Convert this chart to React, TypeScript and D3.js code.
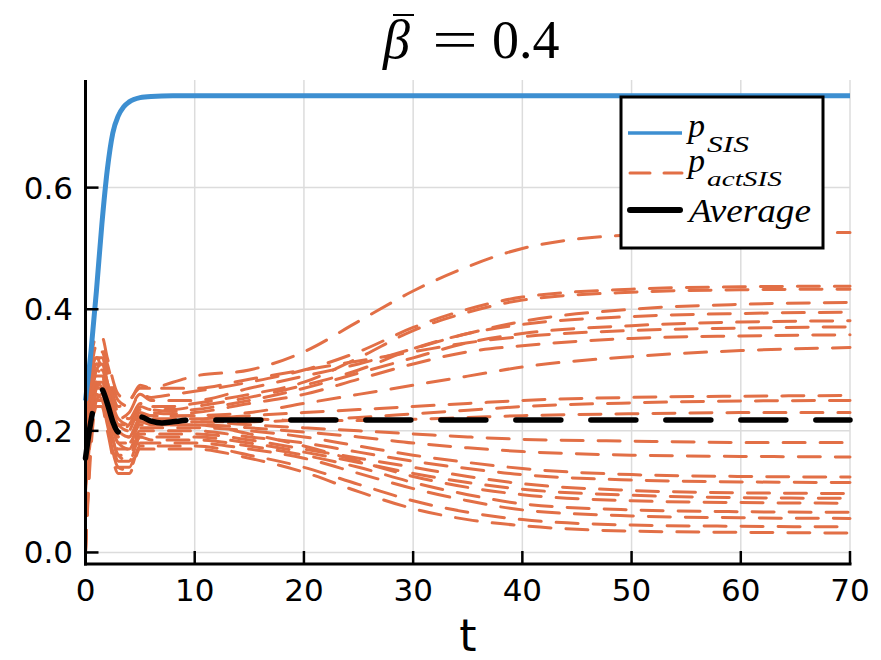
import React from "react";
import * as d3 from "d3";

// ---- data ----
const xTicks = [0, 10, 20, 30, 40, 50, 60, 70];
const yTicks = [0.0, 0.2, 0.4, 0.6];
const yTickLabels = ["0.0", "0.2", "0.4", "0.6"];

const tBlue = [0, 0.5, 1, 1.5, 2, 2.5, 3, 3.5, 4, 5, 6, 8, 70];
const pSIS = [0.25, 0.33, 0.43, 0.54, 0.63, 0.69, 0.718, 0.733, 0.741, 0.748, 0.75, 0.751, 0.751];

const tAvg = [0, 0.35, 0.7, 1.0, 1.4, 2.0, 2.5, 3.0, 3.5, 4.0, 5.0, 6.0, 7.0, 8.0, 10, 70];
const average = [0.155, 0.2, 0.235, 0.258, 0.27, 0.245, 0.215, 0.198, 0.2, 0.212, 0.223, 0.216, 0.213, 0.215, 0.218, 0.218];

const tAct = [0, 0.5, 1, 1.5, 2, 3, 4, 5, 6, 8, 10, 15, 20, 25, 30, 35, 40, 50, 60, 70];
const act01 = [0.22, 0.29, 0.33, 0.33, 0.3, 0.24, 0.25, 0.27, 0.27, 0.28, 0.29, 0.3, 0.33, 0.38, 0.43, 0.47, 0.5, 0.522, 0.526, 0.526];
const act02 = [0.18, 0.27, 0.31, 0.31, 0.28, 0.22, 0.23, 0.26, 0.255, 0.26, 0.265, 0.28, 0.3, 0.33, 0.37, 0.4, 0.42, 0.433, 0.437, 0.438];
const act03 = [0, 0.2, 0.29, 0.3, 0.27, 0.2, 0.21, 0.24, 0.24, 0.24, 0.245, 0.26, 0.28, 0.32, 0.365, 0.395, 0.415, 0.428, 0.432, 0.433];
const act04 = [0.24, 0.3, 0.34, 0.34, 0.31, 0.25, 0.24, 0.26, 0.25, 0.25, 0.25, 0.27, 0.29, 0.31, 0.335, 0.36, 0.38, 0.4, 0.408, 0.411];
const act05 = [0.15, 0.24, 0.3, 0.31, 0.28, 0.21, 0.21, 0.24, 0.235, 0.235, 0.24, 0.255, 0.275, 0.3, 0.335, 0.36, 0.375, 0.388, 0.393, 0.395];
const act06 = [0.2, 0.28, 0.32, 0.32, 0.29, 0.23, 0.22, 0.245, 0.235, 0.232, 0.235, 0.25, 0.27, 0.295, 0.32, 0.345, 0.36, 0.373, 0.379, 0.381];
const act07 = [0.25, 0.32, 0.355, 0.355, 0.32, 0.26, 0.25, 0.275, 0.27, 0.27, 0.27, 0.285, 0.3, 0.315, 0.33, 0.345, 0.355, 0.365, 0.369, 0.371];
const act08 = [0.12, 0.22, 0.28, 0.29, 0.26, 0.19, 0.2, 0.235, 0.23, 0.228, 0.23, 0.245, 0.26, 0.285, 0.31, 0.33, 0.34, 0.352, 0.356, 0.358];
const act09 = [0.22, 0.28, 0.31, 0.3, 0.27, 0.21, 0.2, 0.225, 0.225, 0.224, 0.225, 0.23, 0.245, 0.26, 0.275, 0.29, 0.305, 0.322, 0.332, 0.337];
const act10 = [0.17, 0.25, 0.29, 0.29, 0.26, 0.2, 0.19, 0.22, 0.22, 0.22, 0.22, 0.225, 0.23, 0.235, 0.24, 0.245, 0.25, 0.255, 0.257, 0.258];
const act11 = [0, 0.19, 0.27, 0.28, 0.25, 0.18, 0.18, 0.215, 0.215, 0.215, 0.215, 0.215, 0.218, 0.222, 0.228, 0.234, 0.24, 0.246, 0.249, 0.25];
const act12 = [0.23, 0.29, 0.32, 0.315, 0.28, 0.22, 0.21, 0.23, 0.225, 0.225, 0.225, 0.22, 0.217, 0.217, 0.219, 0.222, 0.225, 0.228, 0.23, 0.23];
const act13 = [0.16, 0.24, 0.28, 0.28, 0.25, 0.19, 0.19, 0.22, 0.215, 0.215, 0.215, 0.21, 0.205, 0.2, 0.195, 0.19, 0.186, 0.183, 0.181, 0.181];
const act14 = [0.21, 0.27, 0.3, 0.29, 0.26, 0.2, 0.19, 0.215, 0.21, 0.21, 0.21, 0.205, 0.198, 0.19, 0.18, 0.172, 0.166, 0.16, 0.158, 0.157];
const act15 = [0.14, 0.22, 0.27, 0.27, 0.24, 0.17, 0.17, 0.205, 0.205, 0.205, 0.205, 0.2, 0.19, 0.175, 0.16, 0.148, 0.138, 0.128, 0.125, 0.124];
const act16 = [0.19, 0.25, 0.28, 0.27, 0.24, 0.18, 0.17, 0.2, 0.2, 0.2, 0.2, 0.19, 0.18, 0.165, 0.15, 0.138, 0.128, 0.119, 0.116, 0.115];
const act17 = [0.1, 0.2, 0.26, 0.26, 0.23, 0.16, 0.16, 0.195, 0.195, 0.195, 0.195, 0.185, 0.17, 0.155, 0.14, 0.125, 0.113, 0.102, 0.098, 0.097];
const act18 = [0.2, 0.26, 0.28, 0.27, 0.23, 0.16, 0.15, 0.19, 0.19, 0.19, 0.19, 0.18, 0.165, 0.148, 0.13, 0.115, 0.104, 0.094, 0.09, 0.089];
const act19 = [0.24, 0.3, 0.32, 0.3, 0.26, 0.19, 0.18, 0.21, 0.21, 0.21, 0.21, 0.195, 0.175, 0.15, 0.125, 0.107, 0.095, 0.085, 0.082, 0.081];
const act20 = [0, 0.17, 0.25, 0.26, 0.23, 0.15, 0.15, 0.19, 0.185, 0.185, 0.185, 0.175, 0.16, 0.14, 0.115, 0.095, 0.08, 0.07, 0.067, 0.066];
const act21 = [0.13, 0.21, 0.25, 0.25, 0.21, 0.14, 0.14, 0.18, 0.18, 0.18, 0.18, 0.17, 0.155, 0.13, 0.105, 0.085, 0.07, 0.06, 0.057, 0.056];
const act22 = [0.18, 0.24, 0.26, 0.25, 0.21, 0.14, 0.135, 0.175, 0.175, 0.175, 0.175, 0.16, 0.14, 0.112, 0.085, 0.066, 0.054, 0.045, 0.043, 0.042];
const act23 = [0.11, 0.19, 0.24, 0.24, 0.2, 0.13, 0.13, 0.17, 0.17, 0.17, 0.17, 0.155, 0.132, 0.1, 0.072, 0.054, 0.044, 0.035, 0.033, 0.032];

const actSeries = [
  act01, act02, act03, act04, act05, act06, act07, act08, act09, act10, act11, act12,
  act13, act14, act15, act16, act17, act18, act19, act20, act21, act22, act23,
];

// ---- styles ----
const BLUE = "#3d8fd1";
const ORANGE = "#e26f46";
const GRID = "#dcdcdc";

export default function App() {
  const W = 881;
  const H = 660;
  const x = d3.scaleLinear().domain([0, 70]).range([85.5, 850]);
  const y = d3.scaleLinear().domain([-0.019, 0.777]).range([564, 80]);
  const [x0, x1] = x.range();
  const [yb, yt] = y.range();

  const mk = (ts: number[]) =>
    d3
      .line<number>()
      .x((_, i) => x(ts[i]))
      .y((d) => y(d))
      .curve(d3.curveMonotoneX);

  const actLine = mk(tAct);
  const blueLine = mk(tBlue);
  const avgLine = mk(tAvg);

  const sans = "DejaVu Sans, sans-serif";
  const serif = "Liberation Serif, Times New Roman, serif";

  return (
    <svg width={W} height={H} style={{ display: "block", position: "absolute", left: 0, top: 0, background: "#fff" }}>
      {/* grid */}
      {xTicks.map((t) => (
        <line key={"gx" + t} x1={x(t)} x2={x(t)} y1={yb} y2={yt} stroke={GRID} strokeWidth={1.5} />
      ))}
      {yTicks.map((t) => (
        <line key={"gy" + t} x1={x0} x2={x1} y1={y(t)} y2={y(t)} stroke={GRID} strokeWidth={1.5} />
      ))}

      {/* p_actSIS */}
      {actSeries.map((s, i) => (
        <path
          key={"a" + i}
          d={actLine(s) || ""}
          fill="none"
          stroke={ORANGE}
          strokeWidth={3}
          strokeDasharray="22,15"
          strokeLinecap="round"
        />
      ))}

      {/* p_SIS */}
      <path d={blueLine(pSIS) || ""} fill="none" stroke={BLUE} strokeWidth={5} />

      {/* Average */}
      <path
        d={avgLine(average) || ""}
        fill="none"
        stroke="#000"
        strokeWidth={5.5}
        strokeDasharray="45,30"
        strokeLinecap="round"
      />

      {/* axes */}
      <line x1={x0} x2={x0} y1={yb + 1.5} y2={yt} stroke="#000" strokeWidth={3} />
      <line x1={x0 - 1.5} x2={x1 + 1.5} y1={yb} y2={yb} stroke="#000" strokeWidth={3} />
      {xTicks.map((t) => (
        <g key={"xt" + t}>
          <line x1={x(t)} x2={x(t)} y1={yb} y2={yb - 13} stroke="#000" strokeWidth={2.5} />
          <text x={x(t)} y={601} textAnchor="middle" fontFamily={sans} fontSize={31} fill="#000">
            {t}
          </text>
        </g>
      ))}
      {yTicks.map((t, i) => (
        <g key={"yt" + t}>
          <line x1={x0} x2={x0 + 13} y1={y(t)} y2={y(t)} stroke="#000" strokeWidth={2.5} />
          <text x={73} y={y(t) + 11} textAnchor="end" fontFamily={sans} fontSize={31} fill="#000">
            {yTickLabels[i]}
          </text>
        </g>
      ))}
      <text x={468} y={651} textAnchor="middle" fontFamily={sans} fontSize={44} fill="#000">
        t
      </text>

      {/* title */}
      <g fill="#000" fontFamily={serif}>
        <text x={383} y={58} fontSize={54} fontStyle="italic">β</text>
        <line x1={393} x2={414} y1={15} y2={15} stroke="#000" strokeWidth={2} />
        <text x={432} y={58} fontSize={54} textLength={46} lengthAdjust="spacingAndGlyphs">=</text>
        <text x={492} y={58} fontSize={54}>0.4</text>
      </g>

      {/* legend */}
      <rect x={621} y={97} width={202} height={151} fill="#fff" stroke="#000" strokeWidth={3} />
      <line x1={628} x2={682} y1={133} y2={133} stroke={BLUE} strokeWidth={3.5} />
      <line x1={630} x2={682} y1={173} y2={173} stroke={ORANGE} strokeWidth={3} strokeDasharray="20,14" strokeLinecap="round" />
      <line x1={630} x2={680} y1={210} y2={210} stroke="#000" strokeWidth={6} strokeLinecap="round" />
      <g fontFamily={serif} fontStyle="italic" fill="#000">
        <text x={688} y={137} fontSize={34}>p</text>
        <text x={707} y={152} fontSize={23} textLength={42} lengthAdjust="spacingAndGlyphs">SIS</text>
        <text x={688} y={172} fontSize={34}>p</text>
        <text x={707} y={186} fontSize={22} textLength={75} lengthAdjust="spacingAndGlyphs">actSIS</text>
        <text x={689} y={222} fontSize={34} textLength={122} lengthAdjust="spacingAndGlyphs">Average</text>
      </g>
    </svg>
  );
}
